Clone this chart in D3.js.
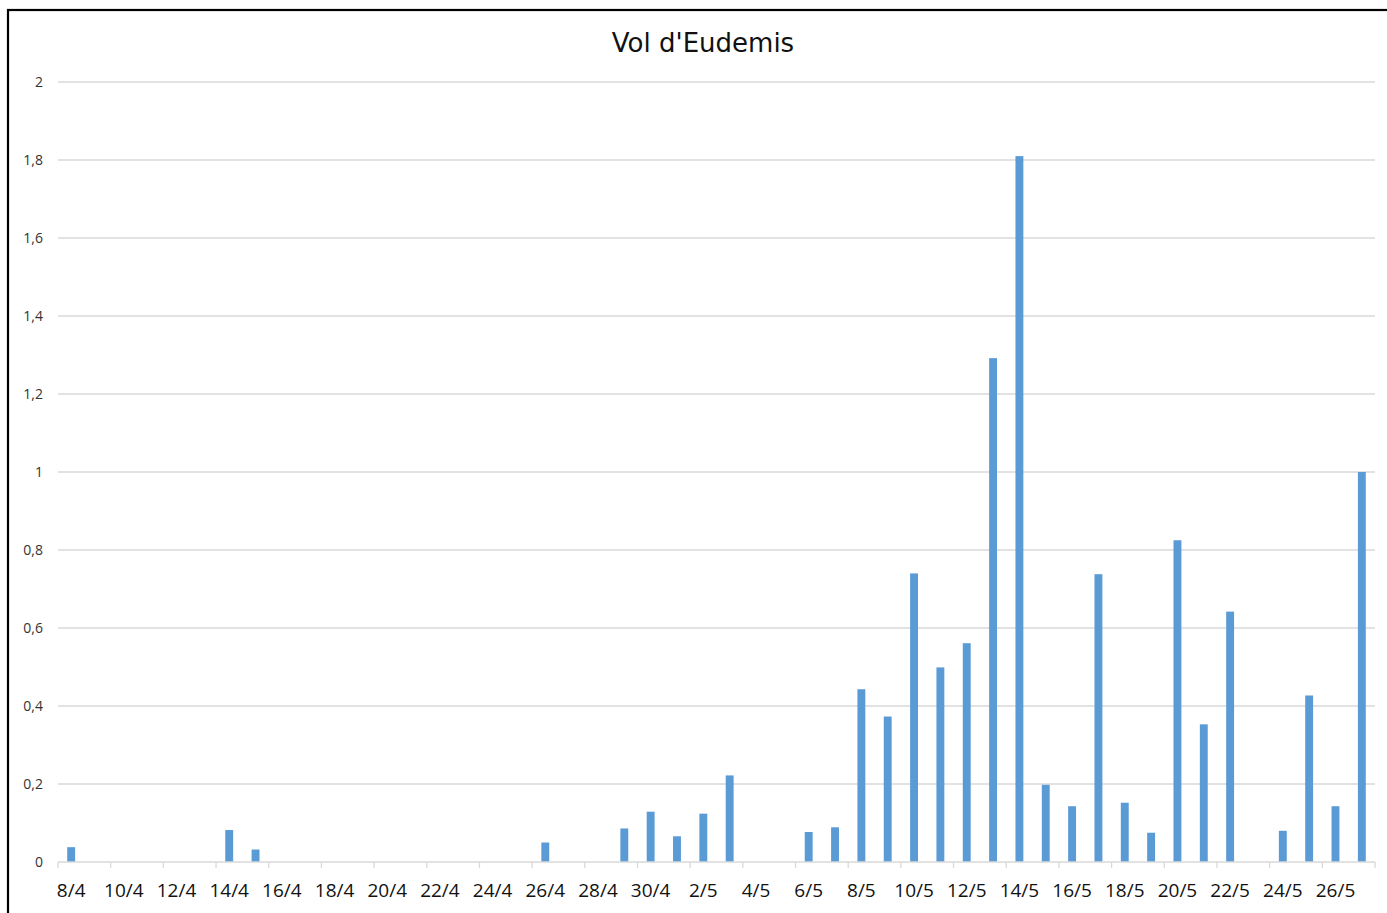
<!DOCTYPE html>
<html>
<head>
<meta charset="utf-8">
<script src="https://cdn.jsdelivr.net/npm/d3@7"></script>
<style>
  body { margin: 0; background: #fff; }
  svg { display: block; }
</style>
</head>
<body>
<script>
// dates (one bar per day, 8/4 -> 27/5)
const days = ["8/4","9/4","10/4","11/4","12/4","13/4","14/4","15/4","16/4","17/4",
  "18/4","19/4","20/4","21/4","22/4","23/4","24/4","25/4","26/4","27/4",
  "28/4","29/4","30/4","1/5","2/5","3/5","4/5","5/5","6/5","7/5",
  "8/5","9/5","10/5","11/5","12/5","13/5","14/5","15/5","16/5","17/5",
  "18/5","19/5","20/5","21/5","22/5","23/5","24/5","25/5","26/5","27/5"];

// flights per day
const vols = [0.038,0,0,0,0,0,0.082,0.032,0,0,
  0,0,0,0,0,0,0,0,0.05,0,
  0,0.086,0.129,0.066,0.124,0.222,0,0,0.077,0.089,
  0.443,0.373,0.74,0.499,0.561,1.292,1.81,0.198,0.143,0.738,
  0.152,0.075,0.825,0.353,0.642,0,0.08,0.427,0.143,1.0];

const yTicks = [0,0.2,0.4,0.6,0.8,1,1.2,1.4,1.6,1.8,2];

const W = 1387, H = 913;
const margin = {top: 82, right: 12, bottom: 51, left: 58};
const width = W - margin.left - margin.right;
const height = H - margin.top - margin.bottom;

const font = "'Open Sans', sans-serif";

const svg = d3.select("body").append("svg")
    .attr("width", W)
    .attr("height", H);

// outer frame (right/bottom edges fall outside the picture)
svg.append("rect")
    .attr("x", 8).attr("y", 10)
    .attr("width", W + 20).attr("height", H + 20)
    .attr("fill", "#fff")
    .attr("stroke", "#000")
    .attr("stroke-width", 2.2);

const g = svg.append("g")
    .attr("transform", `translate(${margin.left},${margin.top})`);

const xScale = d3.scaleBand()
    .domain(days)
    .range([0, width])
    .paddingInner(0.7)
    .paddingOuter(0.35);

const yScale = d3.scaleLinear()
    .domain([0, 2])
    .range([height, 0]);

// gridlines
g.selectAll(".grid")
    .data(yTicks.filter(d => d > 0))
    .enter().append("line")
    .attr("x1", 0).attr("x2", width)
    .attr("y1", d => yScale(d)).attr("y2", d => yScale(d))
    .attr("stroke", "#d9d9d9")
    .attr("stroke-width", 1.3);

// y labels
const fmt = d => String(d).replace(".", ",");
g.selectAll(".ylab")
    .data(yTicks)
    .enter().append("text")
    .attr("x", -15)
    .attr("y", d => yScale(d))
    .attr("dy", "0.35em")
    .attr("text-anchor", "end")
    .style("font-family", font)
    .style("font-size", "14px")
    .style("fill", "#333")
    .text(fmt);

// bars
g.selectAll(".bar")
    .data(vols)
    .enter().append("rect")
    .attr("x", (d, i) => xScale(days[i]))
    .attr("width", xScale.bandwidth())
    .attr("y", d => yScale(d))
    .attr("height", d => height - yScale(d))
    .attr("fill", "#5b9bd5");

// x axis line + ticks every 2 days
g.append("line")
    .attr("x1", 0).attr("x2", width)
    .attr("y1", height).attr("y2", height)
    .attr("stroke", "#d9d9d9")
    .attr("stroke-width", 1.3);

const tickIdx = d3.range(0, days.length + 1, 2);
g.selectAll(".xtick")
    .data(tickIdx)
    .enter().append("line")
    .attr("x1", i => i * width / days.length)
    .attr("x2", i => i * width / days.length)
    .attr("y1", height).attr("y2", height + 6)
    .attr("stroke", "#d9d9d9")
    .attr("stroke-width", 1.3);

// x labels on even days
g.selectAll(".xlab")
    .data(days.filter((d, i) => i % 2 === 0 && i < 49))
    .enter().append("text")
    .attr("x", d => xScale(d) + xScale.bandwidth() / 2)
    .attr("y", height + 35)
    .attr("text-anchor", "middle")
    .style("font-family", font)
    .style("font-size", "19px")
    .style("fill", "#111")
    .text(d => d);

// title
svg.append("text")
    .attr("x", 703)
    .attr("y", 52)
    .attr("text-anchor", "middle")
    .style("font-family", "'DejaVu Sans', sans-serif")
    .style("font-size", "26px")
    .style("fill", "#111")
    .text("Vol d'Eudemis");
</script>
</body>
</html>
